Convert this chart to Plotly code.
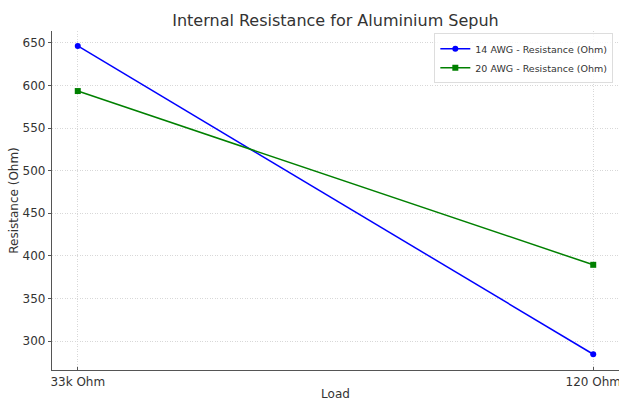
import plotly.graph_objects as go

loads = ["33k Ohm", "120 Ohm"]
awg14 = [646.5, 284.5]
awg20 = [593.5, 389.5]
series_names = ["14 AWG - Resistance (Ohm)", "20 AWG - Resistance (Ohm)"]

fig = go.Figure()
fig.add_trace(go.Scatter(x=loads, y=awg14, mode="lines+markers", name=series_names[0],
                         line=dict(color="#0000ff", width=1.5),
                         marker=dict(symbol="circle", size=6, color="#0000ff")))
fig.add_trace(go.Scatter(x=loads, y=awg20, mode="lines+markers", name=series_names[1],
                         line=dict(color="#008000", width=1.5),
                         marker=dict(symbol="square", size=6, color="#008000")))

font = "DejaVu Sans, sans-serif"
fig.update_layout(
    width=619, height=401,
    margin=dict(l=52, r=0, t=31, b=31, autoexpand=False),
    paper_bgcolor="white", plot_bgcolor="white",
    font=dict(family=font, size=12, color="#333333"),
    title=dict(text="Internal Resistance for Aluminium Sepuh", x=0.542, xanchor="center",
               y=0.95, yanchor="middle", font=dict(size=16, color="#333333")),
    showlegend=True,
    legend=dict(x=0.99, y=0.993, xanchor="right", yanchor="top",
                bgcolor="rgba(255,255,255,0.8)", bordercolor="#dddddd", borderwidth=1,
                font=dict(size=9.5, color="#333333"), tracegroupgap=0,
                itemwidth=30),
    xaxis=dict(type="category", range=[-0.05, 1.05], showline=True, linecolor="#555555",
               linewidth=1.2, ticks="inside", ticklen=3, tickcolor="#555555",
               showgrid=True, gridcolor="#d8d8d8", griddash="1px,1.5px", gridwidth=1,
               zeroline=False, mirror=False, automargin=False,
               title=dict(text="Load", standoff=3, font=dict(size=12))),
    yaxis=dict(range=[266, 664], tickvals=[300, 350, 400, 450, 500, 550, 600, 650],
               showline=True, linecolor="#555555", linewidth=1.2,
               ticks="outside", ticklen=3, tickcolor="#555555",
               showgrid=True, gridcolor="#d8d8d8", griddash="1px,1.5px", gridwidth=1,
               zeroline=False, automargin=False,
               title=dict(text="Resistance (Ohm)", standoff=1, font=dict(size=12))),
)

fig.write_html("out.html", config={"displayModeBar": False},
               post_script="document.body.style.margin='0';")
